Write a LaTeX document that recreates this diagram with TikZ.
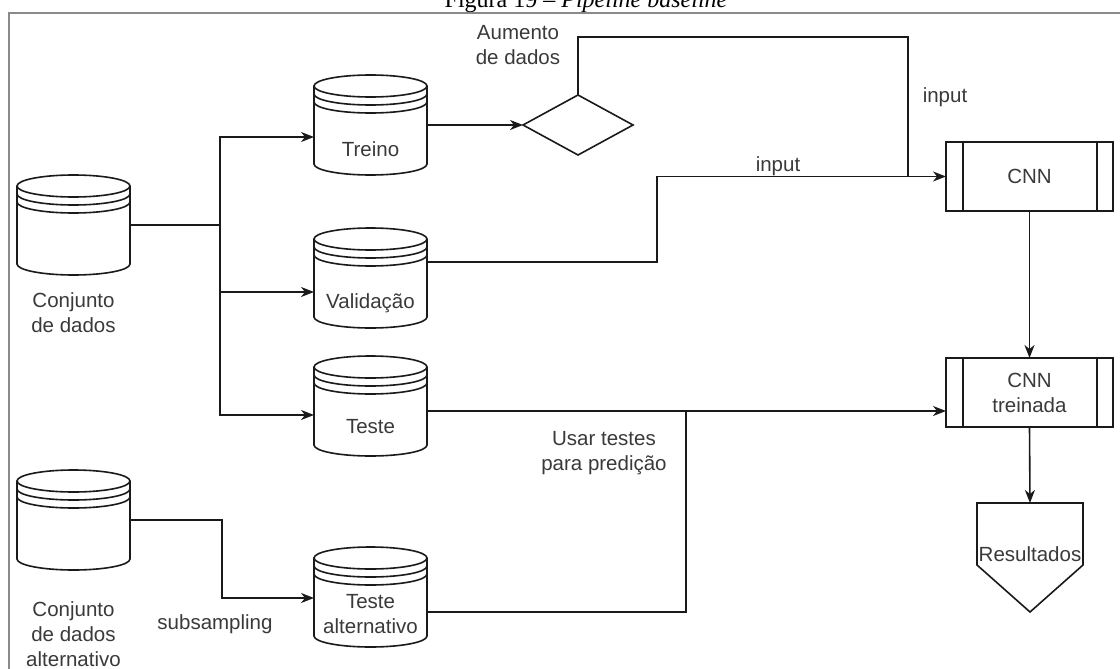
\documentclass[tikz,border=0pt]{standalone}
\usepackage{fontspec}
\setmainfont{Liberation Sans}
\newfontfamily\titlefont{Liberation Serif}
\usetikzlibrary{shapes.geometric,arrows.meta,calc}
\definecolor{lnc}{HTML}{1A1A1A}
\definecolor{txc}{HTML}{3A3A3A}
\definecolor{frc}{HTML}{8A8A8A}
\tikzset{
  lw/.style={draw=lnc, line width=1.6pt},
  arr/.style={lw, -{Stealth[length=13pt,width=10pt,inset=4pt]}},
  cylbox/.style={minimum width=113pt, minimum height=100pt, inner sep=0pt, outer sep=0pt},
  txt/.style={text=txc, font=\fontsize{20.5}{25}\selectfont, align=center, inner sep=0pt},
  procbox/.style={lw, fill=white, minimum width=167pt, minimum height=69pt, inner sep=0pt, outer sep=0pt, text=txc, font=\fontsize{20.5}{25}\selectfont, align=center},
}
\newcommand{\cylshape}[1]{%
  \draw[lw, fill=white] ($(#1.north west)+(0,11)$) -- ($(#1.south west)+(0,-11)$)
    arc[start angle=180,end angle=360,x radius=56.5pt,y radius=11pt]
    -- ($(#1.north east)+(0,11)$)
    arc[start angle=0,end angle=360,x radius=56.5pt,y radius=11pt];
  \draw[lw] ($(#1.north east)+(0,19)$) arc[start angle=0,end angle=-180,x radius=56.5pt,y radius=11pt];
  \draw[lw] ($(#1.north east)+(0,27)$) arc[start angle=0,end angle=-180,x radius=56.5pt,y radius=11pt];
}
\newcommand{\procinner}[1]{%
  \draw[lw] ($(#1.north west)+(17,0)$) -- ($(#1.south west)+(17,0)$);
  \draw[lw] ($(#1.north east)+(-16,0)$) -- ($(#1.south east)+(-16,0)$);
}
\begin{document}
\begin{tikzpicture}[x=1pt,y=-1pt]
\useasboundingbox (0,0) rectangle (1120,669);
\fill[white] (0,0) rectangle (1120,669);

% title and frame
\node[anchor=base, font=\titlefont\fontsize{24}{28}\selectfont, text=black, inner sep=0pt] (title) at (586,8) {Figura 19 – \textit{Pipeline baseline}};
\draw[frc, line width=1.4pt] (9,669) -- (9,13) -- (1120,13);

% data stores
\node[cylbox] (cA) at (73.5,225) {};
\cylshape{cA}
\node[txt] (cAlbl) at (73.5,313) {Conjunto\\de dados};

\node[cylbox] (cB) at (73.5,520) {};
\cylshape{cB}
\node[txt] (cBlbl) at (73.5,634) {Conjunto\\de dados\\alternativo};

\node[cylbox] (treino) at (370.5,125) {};
\cylshape{treino}
\node[txt] at ($(treino.center)+(0,24)$) {Treino};

\node[cylbox] (valid) at (370.5,278) {};
\cylshape{valid}
\node[txt] at ($(valid.center)+(0,25)$) {Validação};

\node[cylbox] (teste) at (370.5,406) {};
\cylshape{teste}
\node[txt] at ($(teste.center)+(0,21)$) {Teste};

\node[cylbox] (talt) at (370.5,597) {};
\cylshape{talt}
\node[txt] at ($(talt.center)+(0,17)$) {Teste\\alternativo};

% diamond
\node[diamond, lw, fill=white, minimum width=110pt, minimum height=60pt, inner sep=0pt, outer sep=0pt] (dia) at (578,125) {};
\node[txt] (aum) at (518,45) {Aumento\\de dados};

% process boxes
\node[procbox] (cnn) at (1029.5,176.5) {CNN};
\procinner{cnn}
\node[procbox] (cnnt) at (1029.5,392.5) {CNN\\treinada};
\procinner{cnnt}

% Resultados (off-page connector)
\node[minimum width=106pt, minimum height=109pt, inner sep=0pt, outer sep=0pt] (res) at (1030,557.5) {};
\draw[lw, fill=white] (res.north west) -- (res.north east) -- ($(res.north east)+(0,62)$) -- (res.south) -- ($(res.north west)+(0,62)$) -- cycle;
\node[txt] at (1030,554) {Resultados};

% connectors from dataset
\coordinate (j1) at (220,225);
\draw[lw] (cA.east) -- (j1);
\draw[arr] (j1) |- ($(treino.west)+(0,12)$);
\draw[arr] (j1) |- ($(valid.west)+(0,14)$);
\draw[arr] (j1) |- ($(teste.west)+(0,9)$);

% treino -> diamond -> CNN
\draw[arr] (treino.east) -- (dia.west);
\coordinate (dk) at (908,37);
\draw[lw] (dia.north) |- (dk) -- (dk |- cnn.west);

% validacao -> CNN
\coordinate (v1) at ($(valid.east)+(0,-16)$);
\coordinate (vk) at (657,0);
\draw[arr] (v1) -| (vk |- cnn.west) -- (cnn.west);

% CNN -> CNN treinada -> Resultados
\draw[arr] (cnn.south) -- (cnnt.north);
\draw[arr] (cnnt.south) -- (res.north);

% teste -> CNN treinada
\coordinate (t1) at ($(teste.east)+(0,5)$);
\draw[arr] (t1) -- (t1 -| cnnt.west);
\coordinate (ta1) at ($(talt.east)+(0,15)$);
\coordinate (mk) at (686,0);
\draw[lw] (ta1) -| (mk |- t1);

% alternative dataset -> teste alternativo
\coordinate (bk) at (222,0);
\coordinate (b2) at ($(talt.west)+(0,1)$);
\draw[arr] (cB.east) -| (bk |- b2) -- (b2);

% labels
\node[txt] (in1) at (945,97) {input};
\node[txt] (in2) at (778,166) {input};
\node[txt] (usar) at (604,453) {Usar testes\\para predição};
\node[txt] (sub) at (215,624) {subsampling};
\end{tikzpicture}
\end{document}
